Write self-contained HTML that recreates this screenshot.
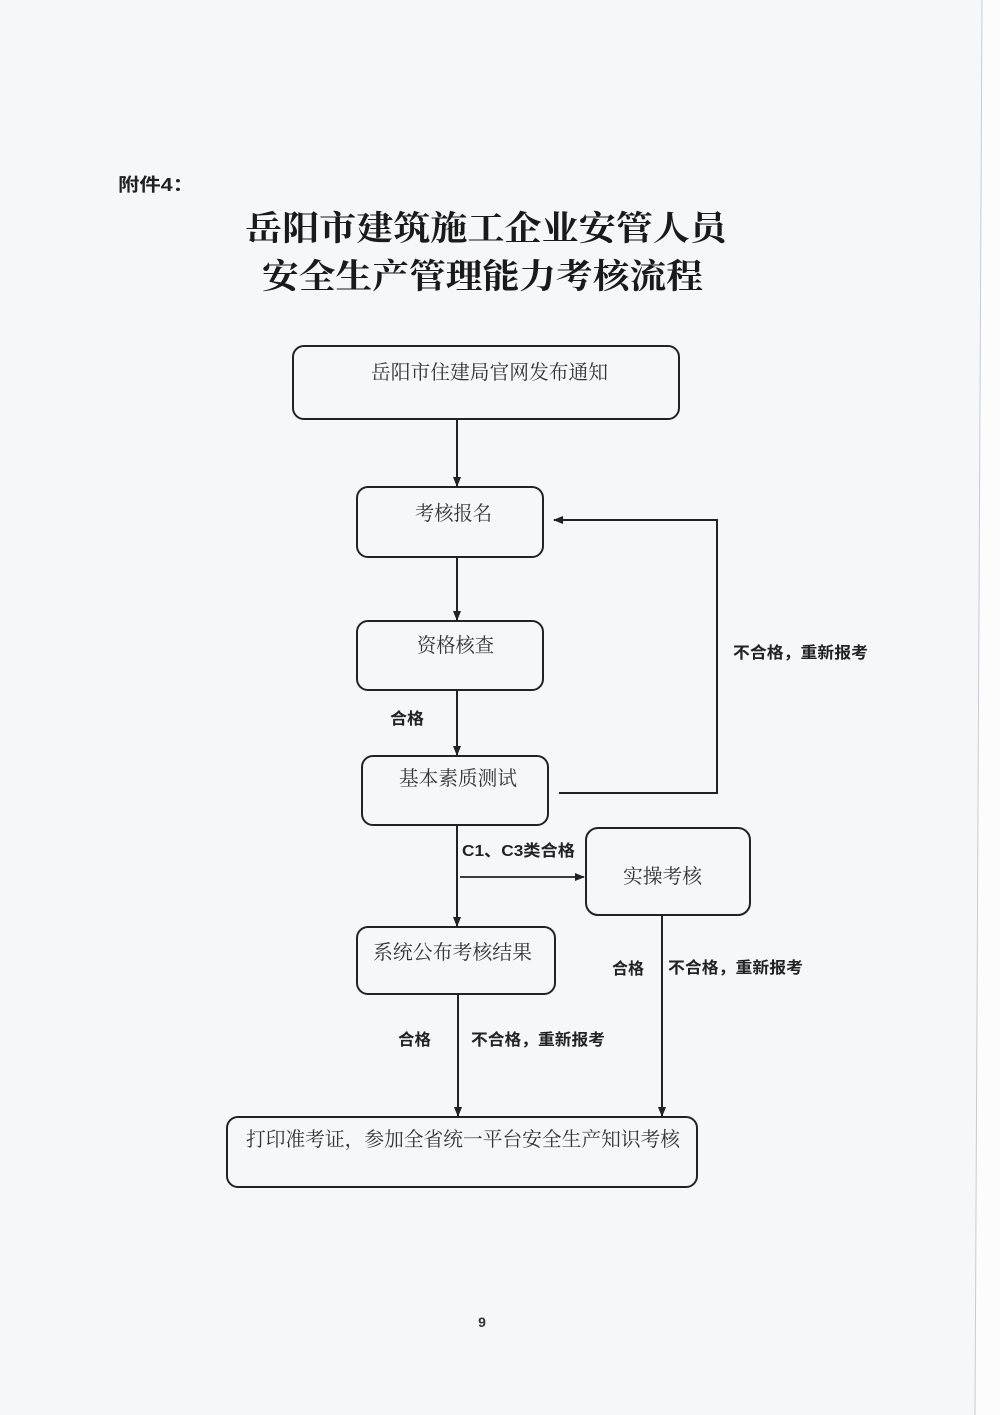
<!DOCTYPE html>
<html>
<head>
<meta charset="utf-8">
<style>
  html,body{margin:0;padding:0;background:#f6f7f9;}
  body{width:1000px;height:1415px;overflow:hidden;}
  svg{display:block;}
  .serif{font-family:"Liberation Serif","Noto Serif CJK SC",serif;}
  .sans{font-family:"Liberation Sans","Noto Sans CJK SC",sans-serif;}
</style>
</head>
<body>
<svg width="1000" height="1415" viewBox="0 0 1000 1415" xmlns="http://www.w3.org/2000/svg">
  <defs>
    <marker id="ah" markerWidth="10" markerHeight="8" refX="9" refY="4" orient="auto" markerUnits="userSpaceOnUse">
      <path d="M0,0 L10,4 L0,8 Z" fill="#222"/>
    </marker>
  </defs>

  <!-- page background & right edge artifact -->
  <rect x="0" y="0" width="1000" height="1415" fill="#f6f7f9"/>
  <polygon points="982,0 1000,0 1000,1415 975,1415" fill="#fcfcfd"/>
  <line x1="982" y1="0" x2="975" y2="1415" stroke="#c9cbcf" stroke-width="1"/>

  <!-- header -->
  <text x="118" y="191" class="sans" font-size="18" font-weight="700" fill="#222" textLength="76" lengthAdjust="spacingAndGlyphs">附件4：</text>

  <!-- title -->
  <text x="245" y="240" class="serif" font-size="34" font-weight="700" fill="#1a1a1a" textLength="482" lengthAdjust="spacingAndGlyphs">岳阳市建筑施工企业安管人员</text>
  <text x="262" y="288" class="serif" font-size="34" font-weight="700" fill="#1a1a1a" textLength="441" lengthAdjust="spacingAndGlyphs">安全生产管理能力考核流程</text>

  <g fill="none" stroke="#222" stroke-width="2">
    <!-- boxes -->
    <rect x="293" y="346" width="386" height="73" rx="11" ry="11"/>
    <rect x="357" y="487" width="186" height="70" rx="11" ry="11"/>
    <rect x="357" y="621" width="186" height="69" rx="11" ry="11"/>
    <rect x="362" y="756" width="186" height="69" rx="11" ry="11"/>
    <rect x="586" y="828" width="164" height="87" rx="12" ry="12"/>
    <rect x="357" y="927" width="198" height="67" rx="11" ry="11"/>
    <rect x="227" y="1117" width="470" height="70" rx="11" ry="11"/>

    <!-- connectors -->
    <line x1="457" y1="419" x2="457" y2="486" marker-end="url(#ah)"/>
    <line x1="457" y1="557" x2="457" y2="620" marker-end="url(#ah)"/>
    <line x1="457" y1="690" x2="457" y2="755" marker-end="url(#ah)"/>
    <polyline points="559,793 717,793 717,520 554,520" marker-end="url(#ah)"/>
    <line x1="457" y1="825" x2="457" y2="926" marker-end="url(#ah)"/>
    <line x1="460" y1="877" x2="584" y2="877" stroke-width="1.8" marker-end="url(#ah)"/>
    <line x1="458" y1="994" x2="458" y2="1116" marker-end="url(#ah)"/>
    <line x1="662" y1="915" x2="662" y2="1116" marker-end="url(#ah)"/>
  </g>

  <!-- box texts -->
  <g class="serif" font-size="20" fill="#333">
    <text x="371" y="379" textLength="237" lengthAdjust="spacingAndGlyphs">岳阳市住建局官网发布通知</text>
    <text x="415" y="520" textLength="77" lengthAdjust="spacingAndGlyphs">考核报名</text>
    <text x="417" y="652" textLength="77" lengthAdjust="spacingAndGlyphs">资格核查</text>
    <text x="399" y="785" textLength="118" lengthAdjust="spacingAndGlyphs">基本素质测试</text>
    <text x="623" y="883" textLength="79" lengthAdjust="spacingAndGlyphs">实操考核</text>
    <text x="373" y="959" textLength="159" lengthAdjust="spacingAndGlyphs">系统公布考核结果</text>
    <text x="246" y="1146" textLength="434" lengthAdjust="spacingAndGlyphs">打印准考证，参加全省统一平台安全生产知识考核</text>
  </g>

  <!-- connector labels -->
  <g class="sans" font-size="16" font-weight="700" fill="#222">
    <text x="390" y="724" textLength="34" lengthAdjust="spacingAndGlyphs">合格</text>
    <text x="733" y="658" textLength="135" lengthAdjust="spacingAndGlyphs">不合格，重新报考</text>
    <text x="462" y="856" textLength="113" lengthAdjust="spacingAndGlyphs">C1、C3类合格</text>
    <text x="612" y="974" textLength="32" lengthAdjust="spacingAndGlyphs">合格</text>
    <text x="668" y="973" textLength="135" lengthAdjust="spacingAndGlyphs">不合格，重新报考</text>
    <text x="398" y="1045" textLength="33" lengthAdjust="spacingAndGlyphs">合格</text>
    <text x="471" y="1045" textLength="134" lengthAdjust="spacingAndGlyphs">不合格，重新报考</text>
  </g>

  <!-- page number -->
  <text x="482" y="1327" class="sans" font-size="14" font-weight="700" fill="#333" text-anchor="middle">9</text>
</svg>
</body>
</html>
